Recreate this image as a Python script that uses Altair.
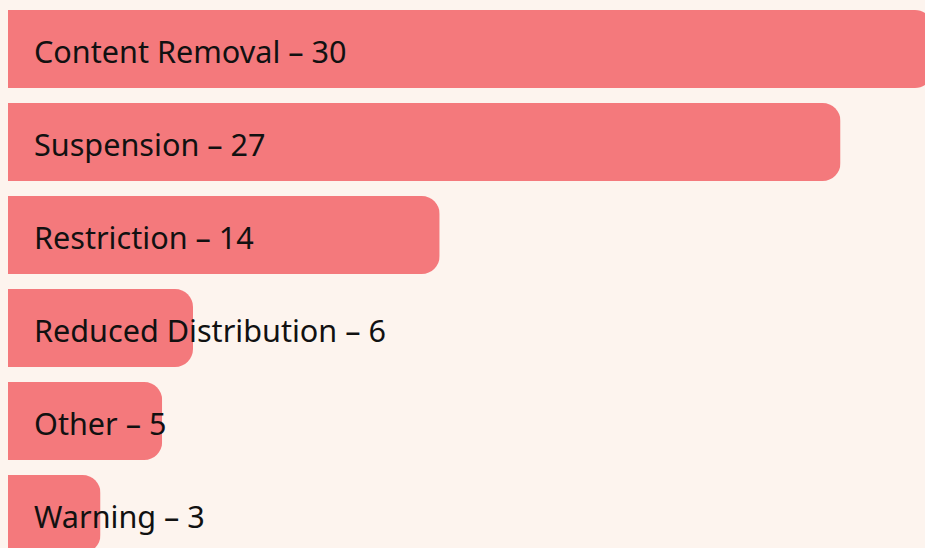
import altair as alt
import pandas as pd

categories = ["Content Removal", "Suspension", "Restriction", "Reduced Distribution", "Other", "Warning"]
counts = [30, 27, 14, 6, 5, 3]

df = pd.DataFrame({"category": categories, "count": counts})
df["label"] = df["category"] + " – " + df["count"].astype(str)

y_enc = alt.Y("category:N", sort=categories, axis=None,
              scale=alt.Scale(paddingInner=0.1613, paddingOuter=0, range=[0, 543]))

bars = alt.Chart(df).mark_bar(color="#f4797c", cornerRadiusEnd=18).encode(
    x=alt.X("count:Q", axis=None,
            scale=alt.Scale(domain=[0, 29.74], nice=False)),
    y=y_enc,
)

text = alt.Chart(df).mark_text(align="left", baseline="alphabetic", dy=14,
                               font="Noto Sans", fontSize=30.6, color="#111111").encode(
    x=alt.value(26),
    y=y_enc,
    text="label:N",
)

chart = (bars + text).properties(
    width=917, height=538,
    background="#fdf4ee",
    padding={"left": 8, "top": 10, "right": 0, "bottom": 0},
    autosize=alt.AutoSizeParams(type="none"),
).configure_view(stroke=None)

chart.save("out.html", embed_options={"renderer": "svg", "actions": False})
